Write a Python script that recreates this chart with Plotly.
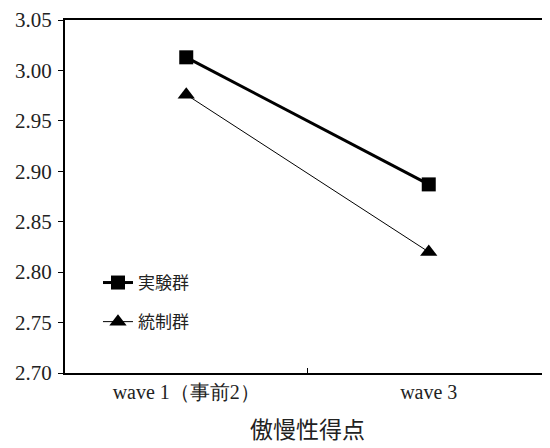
import plotly.graph_objects as go

categories = ["wave 1（事前2）", "wave 3"]
exp_values = [3.013, 2.887]
ctrl_values = [2.976, 2.820]
series_names = ["実験群", "統制群"]
y_ticks = [2.70, 2.75, 2.80, 2.85, 2.90, 2.95, 3.00, 3.05]
y_ticklabels = ["2.70", "2.75", "2.80", "2.85", "2.90", "2.95", "3.00", "3.05"]

fig = go.Figure()
fig.add_trace(go.Scatter(
    x=categories, y=exp_values, name=series_names[0], mode="lines+markers",
    legendgroup="a",
    line=dict(color="black", width=3),
    marker=dict(symbol="square", size=14, color="black"),
))
fig.add_trace(go.Scatter(
    x=categories, y=ctrl_values, name=series_names[1], mode="lines+markers",
    legendgroup="b",
    line=dict(color="black", width=1),
    marker=dict(symbol="triangle-up", size=15, color="black"),
))

serif = "Liberation Serif"
fig.update_layout(
    width=542, height=440,
    margin=dict(l=57, r=0, t=12, b=75),
    paper_bgcolor="white", plot_bgcolor="white",
    font=dict(family=serif, size=20, color="#222"),
    showlegend=True,
    legend=dict(
        x=0.068, y=0.306, xanchor="left", yanchor="top",
        font=dict(family="Noto Sans CJK JP", size=17, color="#222"),
        bgcolor="rgba(0,0,0,0)", tracegroupgap=14, itemsizing="trace",
    ),
)
fig.update_xaxes(
    type="category", range=[-0.5, 1.5], automargin=False,
    showline=True, linecolor="black", linewidth=2, mirror=True,
    ticks="inside", tickson="boundaries", ticklen=5, tickcolor="black",
    showgrid=False, zeroline=False,
    tickfont=dict(family=serif, size=20, color="#222"),
    title=dict(text="傲慢性得点", font=dict(family="Noto Sans CJK JP", size=23, color="#222"), standoff=20),
)
fig.update_yaxes(
    range=[2.70, 3.05], tickmode="array", tickvals=y_ticks, ticktext=y_ticklabels,
    automargin=False,
    showline=True, linecolor="black", linewidth=2,
    ticks="outside", ticklen=5, tickcolor="black", ticklabelstandoff=2,
    showgrid=False, zeroline=False,
    tickfont=dict(family=serif, size=21, color="#222"),
)

fig.write_html("out.html")
